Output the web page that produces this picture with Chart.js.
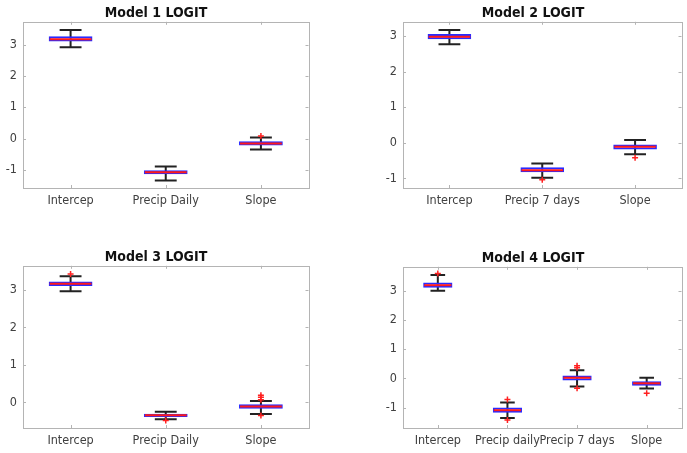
<!DOCTYPE html>
<html>
<head>
<meta charset="utf-8">
<script src="https://cdn.jsdelivr.net/npm/chart.js@4/dist/chart.umd.min.js"></script>
<style>
  body { margin: 0; background: #fff; width: 687px; height: 453px; position: relative; overflow: hidden; }
  .panel { position: absolute; }
</style>
</head>
<body>
<div class="panel" style="left:0px;top:0px;width:314px;height:213px"><canvas id="c1"></canvas></div>
<div class="panel" style="left:380px;top:0px;width:307px;height:213px"><canvas id="c2"></canvas></div>
<div class="panel" style="left:0px;top:244px;width:314px;height:209px"><canvas id="c3"></canvas></div>
<div class="panel" style="left:380px;top:245px;width:307px;height:208px"><canvas id="c4"></canvas></div>
<script>
// model 1
const cats1 = ['Intercep', 'Precip Daily', 'Slope']
const lo1 = [2.92, -1.34, -0.35]
const q1_1 = [3.10, -1.14, -0.22]
const med1 = [3.17, -1.08, -0.16]
const q3_1 = [3.27, -1.01, -0.09]
const hi1 = [3.47, -0.89, 0.03]
const out1 = [['Slope', 0.08]]
const yTicks1 = [-1, 0, 1, 2, 3]

// model 2
const cats2 = ['Intercep', 'Precip 7 days', 'Slope']
const lo2 = [2.77, -0.98, -0.32]
const q1_2 = [2.91, -0.83, -0.19]
const med2 = [2.98, -0.77, -0.11]
const q3_2 = [3.06, -0.69, -0.05]
const hi2 = [3.17, -0.58, 0.08]
const out2 = [['Precip 7 days', -1.04], ['Slope', -0.42]]
const yTicks2 = [-1, 0, 1, 2, 3]

// model 3
const cats3 = ['Intercep', 'Precip Daily', 'Slope']
const lo3 = [2.96, -0.45, -0.31]
const q1_3 = [3.10, -0.39, -0.17]
const med3 = [3.16, -0.34, -0.11]
const q3_3 = [3.22, -0.30, -0.05]
const hi3 = [3.36, -0.25, 0.04]
const out3 = [['Intercep', 3.42], ['Precip Daily', -0.48], ['Slope', 0.19], ['Slope', 0.14], ['Slope', 0.07], ['Slope', -0.35]]
const yTicks3 = [0, 1, 2, 3]

// model 4
const cats4 = ['Intercep', 'Precip daily', 'Precip 7 days', 'Slope']
const lo4 = [3.00, -1.36, -0.28, -0.35]
const q1_4 = [3.10, -1.18, -0.07, -0.25]
const med4 = [3.19, -1.09, 0.02, -0.17]
const q3_4 = [3.28, -1.00, 0.10, -0.10]
const hi4 = [3.54, -0.83, 0.28, 0.02]
const out4 = [['Intercep', 3.59], ['Precip daily', -0.72], ['Precip daily', -1.43],
  ['Precip 7 days', 0.43], ['Precip 7 days', 0.36], ['Precip 7 days', -0.34], ['Slope', -0.51]]
const yTicks4 = [-1, 0, 1, 2, 3]

const FONT = "'DejaVu Sans Condensed', 'Liberation Sans', sans-serif"
const frameColor = '#b4b4b4'

// whiskers behind the boxes, medians on top, matlab style frame with inner ticks
const boxParts = {
  id: 'boxParts',
  beforeDatasetsDraw(chart) {
    const o = chart.options.plugins.boxParts
    const { ctx, scales: { x, y } } = chart
    const bars = chart.getDatasetMeta(0).data
    ctx.save()
    ctx.strokeStyle = '#222'
    ctx.lineWidth = 2
    o.lo.forEach((v, i) => {
      const cx = x.getPixelForValue(i)
      const half = bars[i].width / 4
      ctx.beginPath()
      ctx.moveTo(cx, y.getPixelForValue(v))
      ctx.lineTo(cx, y.getPixelForValue(o.hi[i]))
      ctx.moveTo(cx - half, y.getPixelForValue(v))
      ctx.lineTo(cx + half, y.getPixelForValue(v))
      ctx.moveTo(cx - half, y.getPixelForValue(o.hi[i]))
      ctx.lineTo(cx + half, y.getPixelForValue(o.hi[i]))
      ctx.stroke()
    })
    ctx.restore()
  },
  afterDatasetsDraw(chart) {
    const o = chart.options.plugins.boxParts
    const { ctx, scales: { x, y } } = chart
    const bars = chart.getDatasetMeta(0).data
    ctx.save()
    ctx.strokeStyle = '#ff1a1a'
    ctx.lineWidth = 2
    o.med.forEach((v, i) => {
      const cx = x.getPixelForValue(i)
      const half = bars[i].width / 2 - 1
      ctx.beginPath()
      ctx.moveTo(cx - half, y.getPixelForValue(v))
      ctx.lineTo(cx + half, y.getPixelForValue(v))
      ctx.stroke()
    })
    // frame
    const a = chart.chartArea
    ctx.strokeStyle = frameColor
    ctx.lineWidth = 1
    ctx.strokeRect(Math.round(a.left) + 0.5, Math.round(a.top) + 0.5,
      Math.round(a.right - a.left), Math.round(a.bottom - a.top))
    ctx.beginPath()
    y.ticks.forEach(t => {
      const py = Math.round(y.getPixelForValue(t.value)) + 0.5
      ctx.moveTo(a.left, py); ctx.lineTo(a.left + 3, py)
      ctx.moveTo(a.right - 3, py); ctx.lineTo(a.right, py)
    })
    x.ticks.forEach((t, i) => {
      const px = Math.round(x.getPixelForValue(i)) + 0.5
      ctx.moveTo(px, a.bottom); ctx.lineTo(px, a.bottom - 3)
      ctx.moveTo(px, a.top); ctx.lineTo(px, a.top + 3)
    })
    ctx.stroke()
    ctx.restore()
  }
}

const makeChart = (id, title, cats, lo, q1, med, q3, hi, outs, yTicks, yMin, yMax, barPct, padRight) => {
  const ctx = document.getElementById(id)
  return new Chart(ctx, {
    type: 'bar',
    plugins: [boxParts],
    data: {
      labels: cats,
      datasets: [{
        type: 'bar',
        data: q1.map((v, i) => [v, q3[i]]),
        backgroundColor: 'rgba(250,170,220,0.45)',
        borderColor: '#2a2aff',
        borderWidth: 2,
        borderSkipped: false,
        barPercentage: barPct,
        categoryPercentage: 1,
        grouped: false
      }, {
        type: 'line',
        data: outs.map(p => ({ x: p[0], y: p[1] })),
        showLine: false,
        pointStyle: 'cross',
        radius: 3,
        borderColor: '#ff2020',
        borderWidth: 1.5
      }]
    },
    options: {
      responsive: true,
      maintainAspectRatio: false,
      animation: false,
      layout: { padding: { left: 0, right: padRight, top: 0, bottom: 0 } },
      scales: {
        x: {
          offset: true,
          grid: { display: false, drawTicks: false },
          border: { display: false },
          ticks: { color: '#404040', font: { family: FONT, size: 12.5 }, padding: 5, maxRotation: 0, autoSkip: false },
          afterFit: s => { s.height = 25 }
        },
        y: {
          min: yMin,
          max: yMax,
          grid: { display: false, drawTicks: false },
          border: { display: false },
          ticks: { color: '#404040', font: { family: FONT, size: 12.5 }, padding: 6 },
          afterBuildTicks: s => { s.ticks = yTicks.map(v => ({ value: v })) },
          afterFit: s => { s.width = 23 }
        }
      },
      plugins: {
        legend: { display: false },
        tooltip: { enabled: false },
        title: {
          display: true,
          text: title,
          color: '#111',
          font: { family: FONT, size: 14, weight: 'bold' },
          padding: { top: 5, bottom: 0 }
        },
        boxParts: { lo: lo, hi: hi, med: med }
      }
    }
  })
}

makeChart('c1', 'Model 1 LOGIT', cats1, lo1, q1_1, med1, q3_1, hi1, out1, yTicks1, -1.58, 3.73, 0.46, 2)
makeChart('c2', 'Model 2 LOGIT', cats2, lo2, q1_2, med2, q3_2, hi2, out2, yTicks2, -1.27, 3.40, 0.47, 1)
makeChart('c3', 'Model 3 LOGIT', cats3, lo3, q1_3, med3, q3_3, hi3, out3, yTicks3, -0.68, 3.64, 0.46, 2)
makeChart('c4', 'Model 4 LOGIT', cats4, lo4, q1_4, med4, q3_4, hi4, out4, yTicks4, -1.70, 3.82, 0.42, 1)
</script>
</body>
</html>
